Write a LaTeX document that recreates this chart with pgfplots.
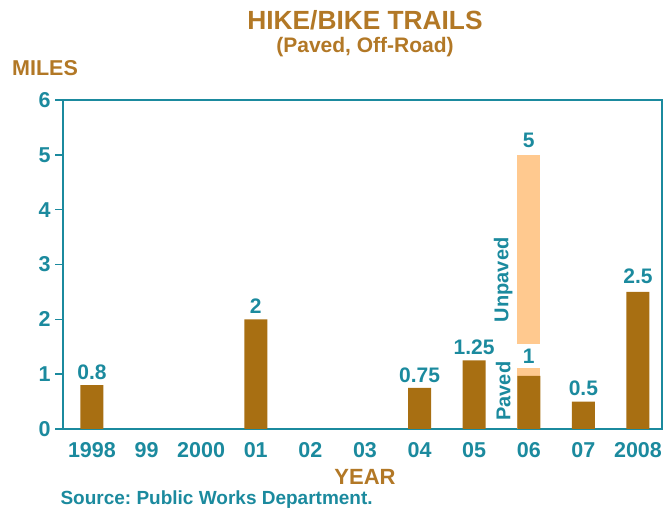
\documentclass[border=0pt]{standalone}
\usepackage{pgfplots}
\pgfplotsset{compat=1.18}
\usepackage{fontspec}
\setmainfont{Liberation Sans}
\definecolor{tealc}{HTML}{1B8A9E}
\definecolor{browntxt}{HTML}{B27826}
\definecolor{darkbar}{HTML}{A86F12}
\definecolor{lightbar}{HTML}{FFC98F}
\frenchspacing
\begin{document}
\begin{tikzpicture}
\useasboundingbox (0pt,0pt) rectangle (672pt,514pt);
\node[font=\bfseries\fontsize{26.3}{28}\selectfont, text=browntxt] at (365pt,494pt) {HIKE/BIKE TRAILS};
\node[font=\bfseries\fontsize{21}{24}\selectfont, text=browntxt] at (365pt,467pt) {(Paved, Off-Road)};
\node[font=\bfseries\fontsize{21.5}{24}\selectfont, text=browntxt] at (45pt,446pt) {MILES};
\node[font=\bfseries\fontsize{22}{24}\selectfont, text=browntxt] at (365pt,37pt) {YEAR};
\node[font=\bfseries\fontsize{19}{22}\selectfont, text=tealc, anchor=west] at (57pt,14pt) {Source: Public Works Department.};
\begin{axis}[
  at={(63pt,85pt)}, anchor=south west, scale only axis,
  width=599pt, height=329pt,
  xmin=-0.53, xmax=10.44, ymin=0, ymax=6,
  axis line style={tealc, line width=2.8pt},
  xtick={0,...,10},
  xticklabels={1998,99,2000,01,02,03,04,05,06,07,2008},
  ytick={0,...,6},
  ytick pos=left,
  x tick style={draw=none},
  y tick style={tealc, line width=1.5pt},
  tick align=outside, major tick length=8pt,
  tick label style={font=\bfseries\fontsize{21.5}{24}\selectfont, text=tealc},
  /pgf/number format/assume math mode=true,
  xticklabel style={yshift=-2pt},
  yticklabel style={xshift=-1pt},
  clip=false,
]
\addplot[ybar, bar shift=0pt, bar width=23pt, fill=lightbar, draw=none] coordinates {(8,1.11)};
\addplot[ybar, bar shift=0pt, bar width=23pt, fill=darkbar, draw=none] coordinates {(0,0.8)(3,2)(6,0.75)(7,1.25)(8,0.97)(9,0.5)(10,2.5)};
\addplot[fill=lightbar, draw=none] coordinates {(7.79,1.55)(8.21,1.55)(8.21,5)(7.79,5)} -- cycle;
\begin{scope}[every node/.style={font=\bfseries\fontsize{21}{24}\selectfont, text=tealc, anchor=south, inner sep=1pt}]
\node at (axis cs:0,0.88) {0.8};
\node at (axis cs:3,2.08) {2};
\node at (axis cs:6,0.83) {0.75};
\node at (axis cs:7,1.33) {1.25};
\node at (axis cs:8,1.17) {1};
\node at (axis cs:8,5.1) {5};
\node at (axis cs:9,0.58) {0.5};
\node at (axis cs:10,2.62) {2.5};
\node[rotate=90, anchor=center, font=\bfseries\fontsize{20}{22}\selectfont] at (axis cs:7.53,2.72) {Unpaved};
\node[rotate=90, anchor=center, font=\bfseries\fontsize{20}{22}\selectfont] at (axis cs:7.53,0.69) {Paved};
\end{scope}
\end{axis}
\end{tikzpicture}
\end{document}
